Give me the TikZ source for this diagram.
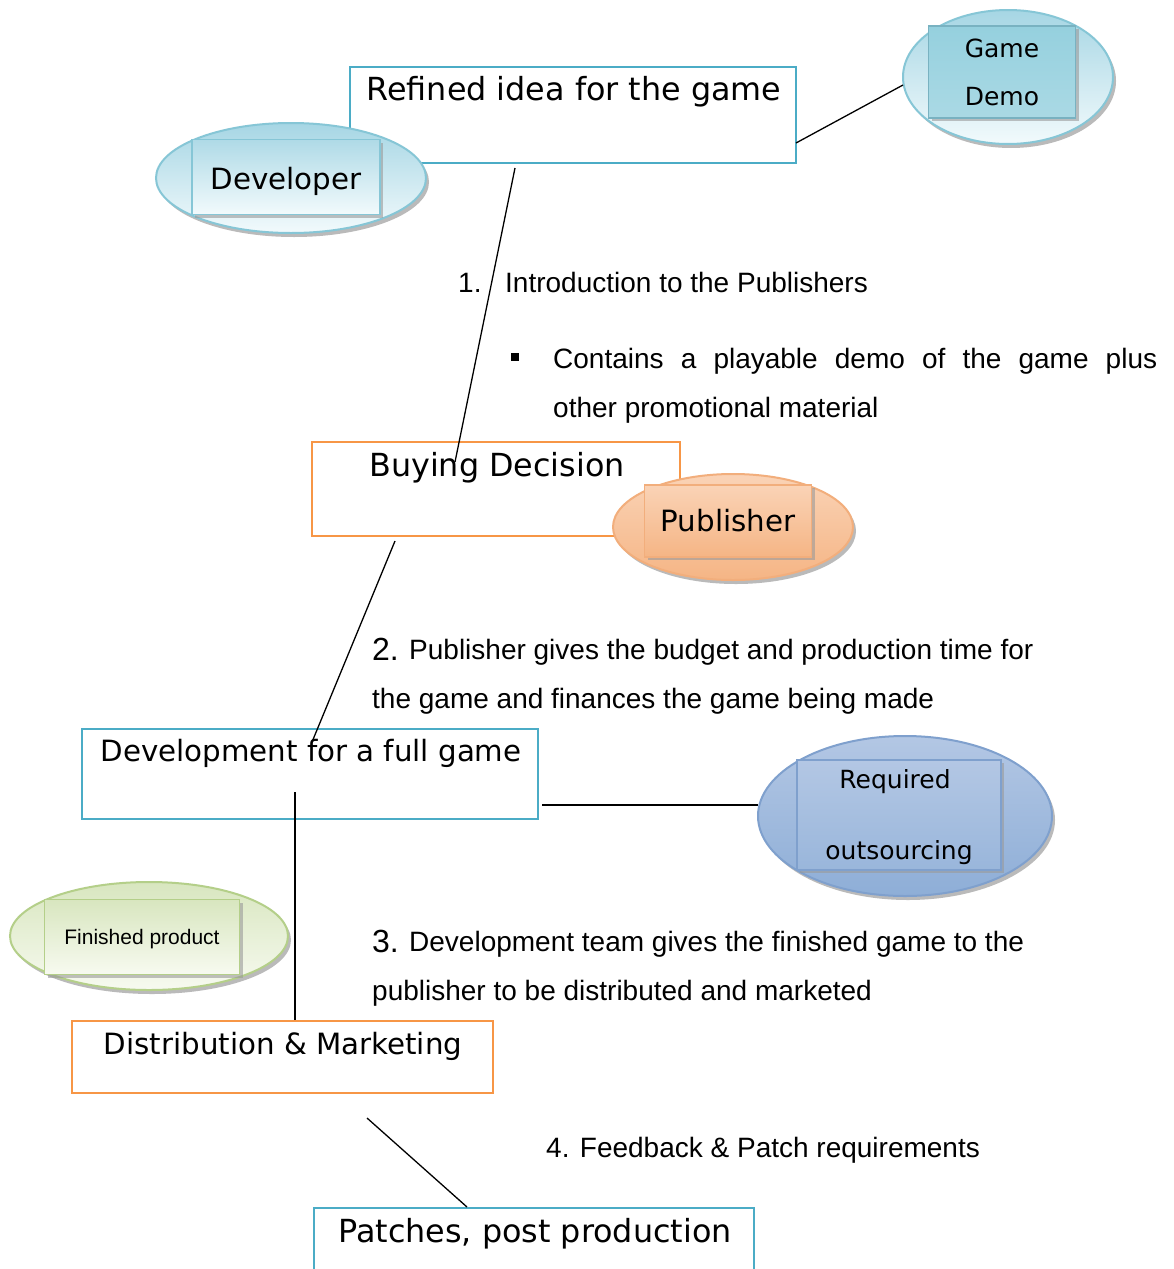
\documentclass[tikz,border=0pt]{standalone}
\usepackage{fontspec}
\setmainfont{Liberation Sans}
\newfontfamily\boxfont{DejaVu Sans}
\usetikzlibrary{shadows,shapes.geometric}
\definecolor{boxcyan}{HTML}{4BACC6}
\definecolor{boxorange}{HTML}{F79646}
\definecolor{devline}{HTML}{86C6D6}
\definecolor{devtop}{HTML}{A6D6E4}
\definecolor{devbot}{HTML}{F2FAFC}
\definecolor{demorect}{HTML}{95D0DE}
\definecolor{publine}{HTML}{F2AE7C}
\definecolor{pubtop}{HTML}{FAD3B6}
\definecolor{pubbot}{HTML}{F5B585}
\definecolor{outline}{HTML}{7FA0CD}
\definecolor{outtop}{HTML}{B3C7E4}
\definecolor{outbot}{HTML}{8EAED7}
\definecolor{finline}{HTML}{B4CF89}
\definecolor{fintop}{HTML}{D8E6BF}
\definecolor{finbot}{HTML}{F7FAF0}
\tikzset{
  cbox/.style={draw=boxcyan, line width=2.5pt, rectangle, inner sep=0pt},
  obox/.style={draw=boxorange, line width=2.5pt, rectangle, inner sep=0pt},
  btxt/.style={font=\boxfont\fontsize{29.3}{34}\selectfont, inner sep=0pt},
  bigtxt/.style={font=\boxfont\fontsize{31.8}{36}\selectfont, inner sep=0pt},
  itxt/.style={font=\boxfont\fontsize{25}{30}\selectfont, inner sep=0pt},
  body/.style={font=\fontsize{28}{33}\selectfont, inner sep=0pt, anchor=base west},
  conn/.style={draw=black, line width=1.3pt},
  ellbase/.style={ellipse, line width=2pt, inner sep=0pt,
     drop shadow={shadow xshift=3pt, shadow yshift=-4pt, fill=black!45, opacity=0.6}},
  recbase/.style={rectangle, line width=1.5pt, inner sep=0pt,
     drop shadow={shadow xshift=3pt, shadow yshift=-3pt, fill=black!40, opacity=0.6}},
}
\begin{document}
\begin{tikzpicture}[x=1pt,y=-1pt]
\useasboundingbox[fill=white] (0,0) rectangle (1174,1269);

% ---- main boxes
\node[cbox, minimum width=446pt, minimum height=96pt] (refined) at (573,115) {};
\node[bigtxt, anchor=base] (refinedt) at (574,100) {Refined idea for the game};

\node[obox, minimum width=368pt, minimum height=94pt] (buying) at (496,489) {};
\node[bigtxt, anchor=base] (buyingt) at (497,476) {Buying Decision};

\node[cbox, minimum width=456pt, minimum height=90pt] (devel) at (310,774) {};
\node[btxt, anchor=base] (develt) at (311,761) {Development for a full game};

\node[obox, minimum width=421pt, minimum height=72pt] (distr) at (282.5,1057) {};
\node[btxt, anchor=base] (distrt) at (283,1054) {Distribution \& Marketing};

\node[cbox, minimum width=440pt, minimum height=100pt] (patch) at (534,1258) {};
\node[bigtxt, anchor=base] (patcht) at (535,1242) {Patches, post production};

% ---- Developer
\node[ellbase, draw=devline, top color=devtop, bottom color=devbot,
      minimum width=270pt, minimum height=110pt] (devell) at (291,178) {};
\node[recbase, draw=devline, top color=devtop!90, bottom color=devbot,
      minimum width=188pt, minimum height=75pt] (devrect) at (286,177) {};
\node[btxt, anchor=base] (devt) at (286,189) {Developer};

% ---- Game Demo
\node[ellbase, draw=devline, top color=devtop, bottom color=devbot,
      minimum width=210pt, minimum height=134pt] (demoell) at (1008,77) {};
\node[recbase, draw=devline!90!black, top color=demorect, bottom color=demorect!80,
      minimum width=147pt, minimum height=92pt] (demorect) at (1002,72) {};
\node[itxt, anchor=base] (demot1) at (1002,57) {Game};
\node[itxt, anchor=base] (demot2) at (1002,105) {Demo};

% ---- Publisher
\node[ellbase, draw=publine, top color=pubtop, bottom color=pubbot,
      minimum width=240pt, minimum height=106pt] (pubell) at (733,527) {};
\node[recbase, draw=publine, top color=pubtop, bottom color=pubbot,
      minimum width=167pt, minimum height=72pt] (pubrect) at (728,521) {};
\node[btxt, anchor=base] (pubt) at (728,531) {Publisher};

% ---- Required outsourcing
\node[ellbase, draw=outline, top color=outtop, bottom color=outbot,
      minimum width=294pt, minimum height=160pt] (outell) at (905,816) {};
\node[recbase, draw=outline, top color=outtop, bottom color=outbot!90,
      minimum width=204pt, minimum height=110pt] (outrect) at (899,815) {};
\node[itxt, anchor=base] (outt1) at (895,788) {Required};
\node[itxt, anchor=base] (outt2) at (899,859) {outsourcing};

% ---- Finished product
\node[ellbase, draw=finline, top color=fintop, bottom color=finbot,
      minimum width=278pt, minimum height=108pt] (finell) at (149,936) {};
\node[recbase, draw=finline, top color=fintop, bottom color=finbot,
      minimum width=195pt, minimum height=75pt] (finrect) at (142,937) {};
\node[font=\fontsize{21}{25}\selectfont, inner sep=0pt, anchor=base] (fint) at (142,944) {Finished product};

% ---- connectors
\coordinate (r1) at (515,168);
\coordinate (b1) at (455,462);
\coordinate (r2) at (796,143);
\coordinate (g2) at (903,85);
\coordinate (b3) at (395,541);
\coordinate (d3) at (312,742);
\coordinate (d4) at (542,805);
\coordinate (o4) at (758,805);
\coordinate (d5) at (295,792);
\coordinate (m5) at (295,1020);
\coordinate (m6) at (367,1118);
\coordinate (p6) at (467,1207);
\draw[conn] (r1) -- (b1);
\draw[conn] (r2) -- (g2);
\draw[conn] (b3) -- (d3);
\draw[conn] (d4) -- (o4);
\draw[conn] (d5) -- (m5);
\draw[conn] (m6) -- (p6);

% ---- texts
\node[body] (n1) at (458,292) {1.};
\node[body] (t1) at (505,292) {Introduction to the Publishers};
\node[fill=black, minimum size=8pt, inner sep=0pt] (bul) at (515,357) {};
\node[body] (t1b) at (553,368) {\makebox[604pt][s]{Contains a playable demo of the game plus}};
\node[body] (t1c) at (553,417) {other promotional material};

\node[body, font=\fontsize{32}{36}\selectfont] (n2) at (372,660) {2.};
\node[body] (t2) at (409,659) {Publisher gives the budget and production time for};
\node[body] (t2b) at (372,708) {the game and finances the game being made};

\node[body, font=\fontsize{32}{36}\selectfont] (n3) at (372,952) {3.};
\node[body] (t3) at (409,951) {Development team gives the finished game to the};
\node[body] (t3b) at (372,1000) {publisher to be distributed and marketed};

\node[body] (t4) at (546,1157) {4. Feedback \& Patch requirements};
\end{tikzpicture}
\end{document}
